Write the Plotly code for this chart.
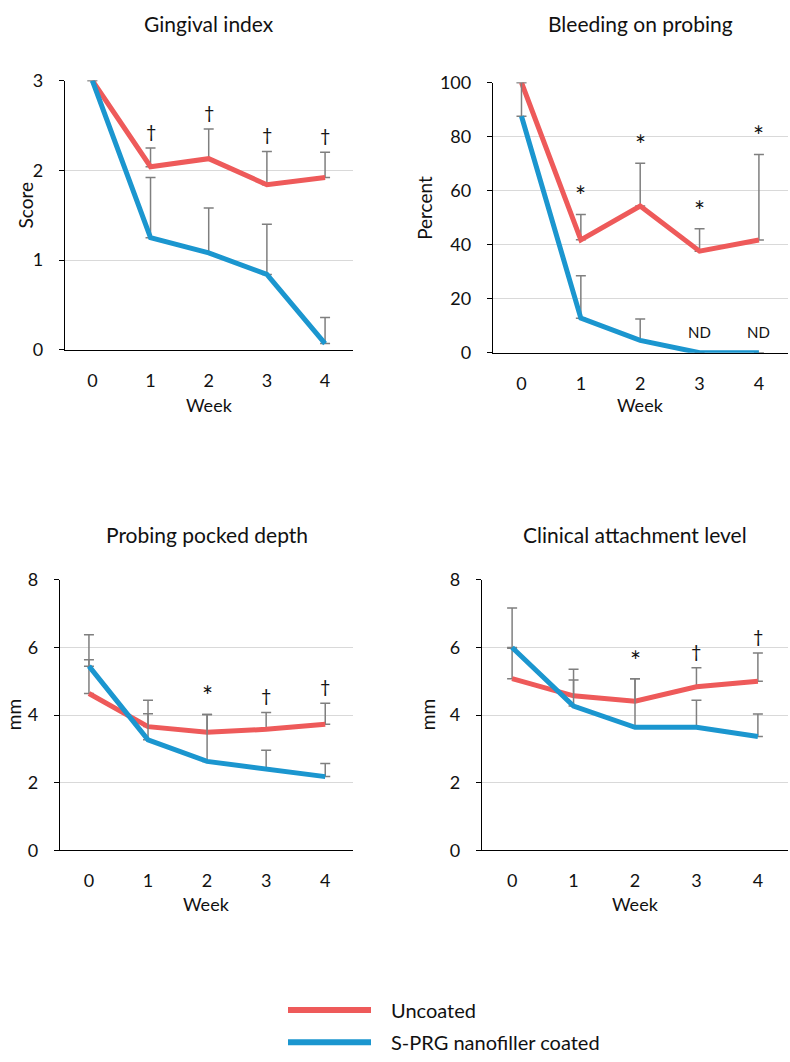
import plotly.graph_objects as go

# ---------------- data ----------------
weeks = [0, 1, 2, 3, 4]
week_ticks = ["0", "1", "2", "3", "4"]

gi_unc = [3.0, 2.04, 2.13, 1.84, 1.92]
gi_unc_sd = [0, 0.21, 0.33, 0.37, 0.28]
gi_coat = [3.0, 1.25, 1.08, 0.84, 0.07]
gi_coat_sd = [0, 0.67, 0.50, 0.56, 0.29]
gi_marks = ["", "†", "†", "†", "†"]

bop_unc = [100, 41.8, 54.3, 37.6, 41.7]
bop_unc_sd = [0, 9.4, 15.8, 8.3, 31.7]
bop_coat = [87.5, 12.8, 4.6, 0, 0]
bop_coat_sd = [12.5, 15.7, 7.9, 0, 0]
bop_marks = ["", "*", "*", "*", "*"]
bop_nd = ["", "", "", "ND", "ND"]

ppd_unc = [4.64, 3.66, 3.49, 3.58, 3.73]
ppd_unc_sd = [1.00, 0.38, 0.53, 0.50, 0.62]
ppd_coat = [5.45, 3.27, 2.63, 2.42, 2.18]
ppd_coat_sd = [0.93, 1.17, 1.39, 0.54, 0.39]
ppd_marks = ["", "", "*", "†", "†"]

cal_unc = [5.08, 4.57, 4.41, 4.84, 5.00]
cal_unc_sd = [0.90, 0.47, 0.67, 0.56, 0.84]
cal_coat = [6.0, 4.27, 3.64, 3.64, 3.37]
cal_coat_sd = [1.17, 1.09, 1.44, 0.80, 0.66]
cal_marks = ["", "", "*", "†", "†"]

titles = ["Gingival index", "Bleeding on probing", "Probing pocked depth", "Clinical attachment level"]
ytitles = ["Score", "Percent", "mm", "mm"]
series_names = ["Uncoated", "S-PRG nanofiller coated"]

# ---------------- style / layout ----------------
W, H = 790, 1062
RED = "#EE5A5A"
BLUE = "#1B96CF"
GREY = "#7F7F7F"
FONT = "Lato, 'Open Sans', sans-serif"
TXT = "#111111"

def px(x):
    return x / W

def py(y):
    return 1 - y / H

# panel geometry in pixels: (left, right, top, bottom)
geo = [
    (65, 353, 70, 345),
    (493, 788, 72, 348),
    (60, 353, 580, 856),
    (482, 788, 580, 856),
]
xr = [(-0.47, 4.48), (-0.48, 4.49), (-0.49, 4.47), (-0.49, 4.49)]
yr = [(0, 3), (0, 100), (0, 8), (0, 8)]
ytv = [[0, 1, 2, 3], [0, 20, 40, 60, 80, 100], [0, 2, 4, 6, 8], [0, 2, 4, 6, 8]]
title_y = [12, 12, 534, 534]
ytitle_x = [25, 425, 13, 427]
week_y = [401, 401, 911, 911]

panels = [
    (gi_unc, gi_unc_sd, gi_coat, gi_coat_sd, gi_marks),
    (bop_unc, bop_unc_sd, bop_coat, bop_coat_sd, bop_marks),
    (ppd_unc, ppd_unc_sd, ppd_coat, ppd_coat_sd, ppd_marks),
    (cal_unc, cal_unc_sd, cal_coat, cal_coat_sd, cal_marks),
]

fig = go.Figure()
annotations = []
layout = {}

for i, (unc, unc_sd, coat, coat_sd, marks) in enumerate(panels):
    n = "" if i == 0 else str(i + 1)
    xa, ya = "x" + n, "y" + n
    for vals, sd, col, name in [(unc, unc_sd, RED, series_names[0]),
                                (coat, coat_sd, BLUE, series_names[1])]:
        fig.add_trace(go.Scatter(
            x=weeks, y=vals, mode="lines", name=name, showlegend=False,
            line=dict(color=col, width=5),
            error_y=dict(type="data", symmetric=False, array=sd,
                         arrayminus=[0] * len(sd), color=GREY,
                         thickness=1.5, width=5),
            xaxis=xa, yaxis=ya))
    l, r, t, b = geo[i]
    layout["xaxis" + n] = dict(
        domain=[px(l), px(r)], range=list(xr[i]), anchor=ya,
        tickmode="array", tickvals=weeks, ticktext=week_ticks,
        showgrid=False, zeroline=False, showline=True, linecolor="#000000",
        linewidth=1.3, ticks="", ticklabelstandoff=14,
        tickfont=dict(family=FONT, size=18, color=TXT), fixedrange=True)
    layout["yaxis" + n] = dict(
        domain=[py(b), py(t)], range=list(yr[i]), anchor=xa,
        tickmode="array", tickvals=ytv[i],
        showgrid=True, gridcolor="#D9D9D9", gridwidth=1, zeroline=False,
        showline=True, linecolor="#000000", linewidth=1.3,
        ticks="outside", ticklen=5, tickcolor="#000000", tickwidth=1.3,
        ticklabelstandoff=12,
        tickfont=dict(family=FONT, size=18, color=TXT), fixedrange=True)
    # significance marks above the taller error bar
    for w, m in zip(weeks, marks):
        if m:
            top = max(unc[w] + unc_sd[w], coat[w] + coat_sd[w])
            annotations.append(dict(
                x=w, y=top, xref=xa, yref=ya, text=m, showarrow=False,
                yanchor="bottom", yshift=(0 if m == "*" else 4),
                font=dict(family=FONT, size=(26 if m == "*" else 18), color=TXT)))
    annotations.append(dict(x=px((l + r) / 2), y=py(title_y[i]), xref="paper", yref="paper",
                            text=titles[i], showarrow=False, xanchor="center", yanchor="middle",
                            font=dict(family=FONT, size=21, color=TXT)))
    annotations.append(dict(x=px(ytitle_x[i]), y=py((t + b) / 2 - (10 if i < 2 else 0)),
                            xref="paper", yref="paper",
                            text=ytitles[i], textangle=-90, showarrow=False,
                            xanchor="center", yanchor="middle",
                            font=dict(family=FONT, size=19, color=TXT)))
    annotations.append(dict(x=px((l + r) / 2), y=py(week_y[i]), xref="paper", yref="paper",
                            text="Week", showarrow=False, xanchor="center", yanchor="middle",
                            font=dict(family=FONT, size=18, color=TXT)))

# ND labels (bleeding on probing, coated group)
for w, m in zip(weeks, bop_nd):
    if m:
        annotations.append(dict(x=w, y=0, xref="x2", yref="y2", text=m, showarrow=False,
                                yanchor="middle", yshift=21,
                                font=dict(family=FONT, size=15, color=TXT)))

# legend drawn at the bottom centre
shapes = []
for yy, col, name in [(1019, RED, series_names[0]), (1052, BLUE, series_names[1])]:
    shapes.append(dict(type="line", xref="paper", yref="paper",
                       x0=px(288), x1=px(371), y0=py(yy), y1=py(yy),
                       line=dict(color=col, width=6)))
    annotations.append(dict(x=px(389), y=py(yy), xref="paper", yref="paper", text=name,
                            showarrow=False, xanchor="left", yanchor="middle",
                            font=dict(family=FONT, size=20, color=TXT)))

fig.update_layout(
    width=W, height=H, margin=dict(l=0, r=0, t=0, b=0),
    paper_bgcolor="white", plot_bgcolor="white",
    showlegend=False, annotations=annotations, shapes=shapes,
    font=dict(family=FONT, color=TXT), **layout)

fig.write_html(
    "out.html",
    config={"displayModeBar": False},
    post_script="document.documentElement.style.margin='0';"
                "document.body.style.margin='0';"
                "document.body.style.overflow='hidden';")
